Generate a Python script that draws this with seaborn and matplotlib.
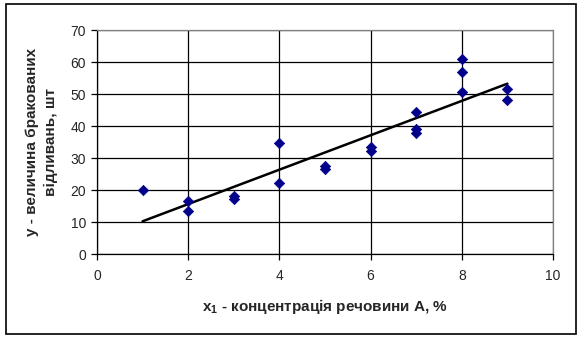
import numpy as np
import pandas as pd
import matplotlib
matplotlib.use("Agg")
import matplotlib.pyplot as plt
import seaborn as sns
from matplotlib.patches import Rectangle

x_vals = [1, 2, 2, 3, 3, 4, 4, 5, 5, 6, 6, 7, 7, 7, 8, 8, 8, 9, 9]
y_vals = [20, 16.5, 13.5, 18, 17.2, 34.6, 22.3, 27.4, 26.7, 33.4, 32.3,
          44.4, 39.2, 37.7, 60.9, 57, 50.6, 51.5, 48]
x_ticks = [0, 2, 4, 6, 8, 10]
y_ticks = [0, 10, 20, 30, 40, 50, 60, 70]
x_label = r"$\mathbf{x_1}$ - концентрація речовини А, %"
y_label = "y - величина бракованих\nвідливань, шт"

df = pd.DataFrame({"x": x_vals, "y": y_vals})

sns.set_style("white")
plt.rcParams["font.family"] = ["Liberation Sans", "DejaVu Sans"]
plt.rcParams["mathtext.fontset"] = "custom"
plt.rcParams["mathtext.bf"] = "Liberation Sans:bold"
plt.rcParams["mathtext.rm"] = "Liberation Sans"

fig = plt.figure(figsize=(5.81, 3.40), dpi=100)
ax = fig.add_axes([97/581, 1 - 254/340, (553-97)/581, (254-30)/340])

sns.regplot(data=df, x="x", y="y", ax=ax, scatter=False, ci=None,
            line_kws=dict(color="black", lw=1.8), truncate=True)
sns.scatterplot(data=df, x="x", y="y", ax=ax, marker="D", s=28,
                color="#00008B", edgecolor="#00008B", linewidth=0.5, zorder=5)

ax.set_xlim(0, 10)
ax.set_ylim(0, 70)
ax.set_xticks(x_ticks)
ax.set_yticks(y_ticks)
ax.grid(True, color="black", lw=0.9)
ax.set_axisbelow(True)
for s in ["top", "right"]:
    ax.spines[s].set_color("#808080")
    ax.spines[s].set_linewidth(0.9)
for s in ["left", "bottom"]:
    ax.spines[s].set_color("black")
    ax.spines[s].set_linewidth(0.9)
ax.tick_params(axis="both", direction="out", length=4, width=0.9,
               labelsize=10, color="black", bottom=True, left=True, pad=4)
ax.tick_params(axis="x", pad=7)
ax.set_xlabel(x_label, fontsize=11, fontweight="bold", labelpad=10)
ax.set_ylabel(y_label, fontsize=11, fontweight="bold", labelpad=9,
              linespacing=1.45)
ax.yaxis.label.set_multialignment("center")

fig.patches.append(Rectangle((6/581, 1 - 334/340), 570/581, 330/340,
                             transform=fig.transFigure, fill=False,
                             edgecolor="black", lw=1.2))

fig.savefig("out.png", dpi=100)
